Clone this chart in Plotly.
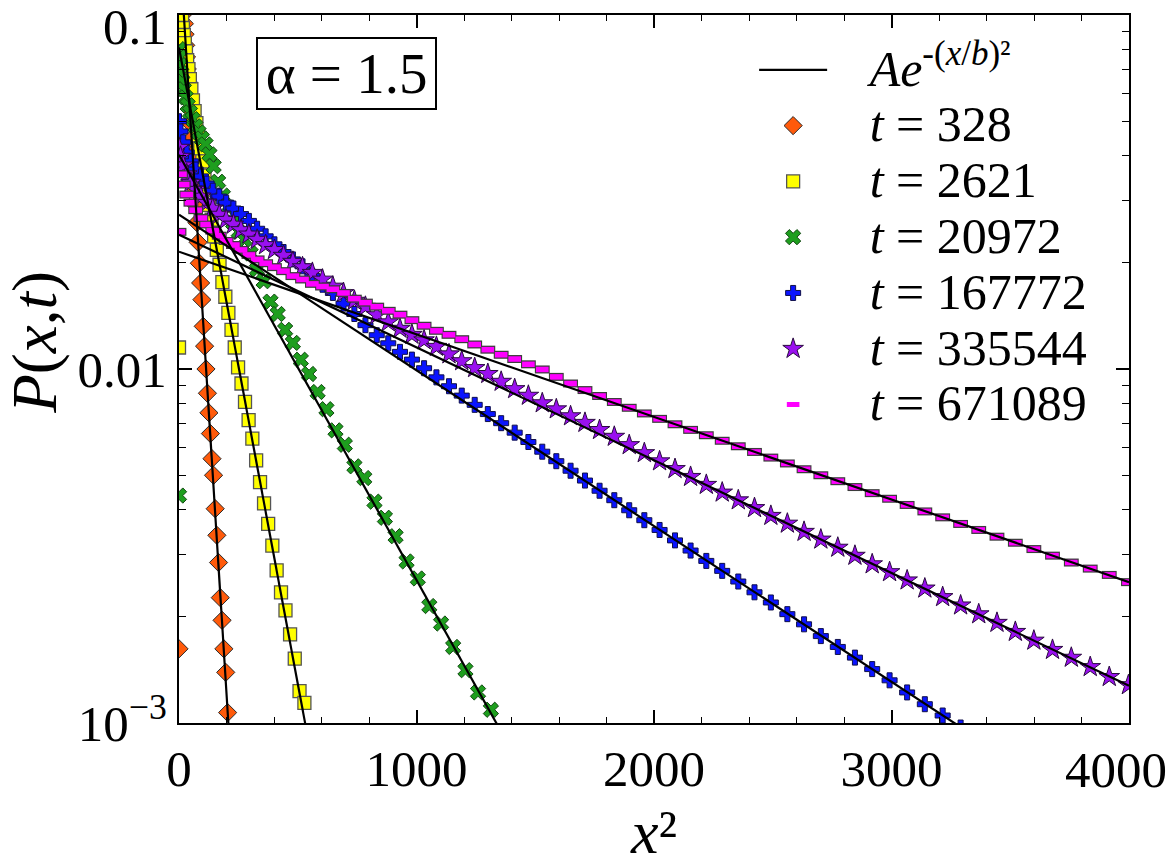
import plotly.graph_objects as go

# ---------------- data ----------------
# t = 328  (orange diamonds)
x2_t328 = [0, 15.4, 17.7, 20.1, 22.7, 25.5, 28.4, 31.5, 34.7, 38.1, 41.6, 45.3, 49.2, 53.2, 57.4,
           61.7, 66.2, 70.8, 75.6, 80.6, 85.7, 91.0, 96.4, 102.0, 107.7, 113.6, 119.7, 125.9, 132.3,
           138.8, 145.5, 152.4, 159.4, 166.5, 173.8, 181.3, 189.0, 196.8, 204.7]
p_t328 = [0.00162, 0.113, 0.107, 0.101, 0.0945, 0.0882, 0.0821, 0.0761, 0.0704, 0.0647, 0.0594,
          0.0542, 0.0493, 0.0447, 0.0403, 0.0362, 0.0324, 0.0290, 0.0259, 0.0228, 0.0199, 0.0175,
          0.0157, 0.0132, 0.0116, 0.0100, 0.00854, 0.00752, 0.00657, 0.00558, 0.00501, 0.00403,
          0.00339, 0.00284, 0.00226, 0.00195, 0.00162, 0.00139, 0.00107]

# t = 2621  (yellow squares)
x2_t2621 = [0, 5.1, 7.3, 9.95, 13.0, 16.4, 20.3, 24.6, 29.2, 34.3, 39.8, 45.7, 52.0, 58.7, 65.8,
            73.3, 81.2, 89.5, 98.3, 107.4, 116.9, 126.9, 137.2, 148.0, 159.2, 170.7, 182.7, 195.1,
            207.9, 221.1, 234.7, 248.7, 263.1, 277.9, 293.1, 308.8, 324.8, 341.2, 358.1, 375.4,
            393.0, 411.1, 429.5, 448.4, 467.7, 487.4, 507.5, 528.0]
p_t2621 = [0.0115, 0.107, 0.104, 0.100, 0.0962, 0.0919, 0.0878, 0.0833, 0.0790, 0.0745, 0.0703,
           0.0659, 0.0617, 0.0574, 0.0535, 0.0495, 0.0457, 0.0420, 0.0386, 0.0352, 0.0321, 0.0291,
           0.0264, 0.0237, 0.0217, 0.0197, 0.0176, 0.0160, 0.0144, 0.0129, 0.0115, 0.0101, 0.00910,
           0.00807, 0.00717, 0.00636, 0.00552, 0.00479, 0.00417, 0.00365, 0.00317, 0.00270,
           0.00234, 0.00208, 0.00178, 0.00152, 0.00123, 0.00114]

# t = 20972  (green x)
x2_t20972 = [0, 0.57, 2.28, 5.13, 9.12, 14.25, 20.5, 27.9, 36.5, 46.2, 57.0, 69.0, 82.1, 96.3,
             111.7, 128.3, 145.9, 164.7, 184.7, 205.8, 228.0, 251.4, 275.9, 301.5, 328.3, 356.3,
             385.3, 415.5, 446.9, 479.4, 513.0, 547.8, 583.7, 620.7, 658.9, 698.3, 738.7, 780.3,
             823.1, 867.0, 912.0, 958.2, 1005.5, 1054.0, 1103.5, 1154.3, 1206.1, 1259.1, 1313.3]
p_t20972 = [0.00439, 0.0801, 0.0760, 0.0722, 0.0685, 0.0650, 0.0617, 0.0585, 0.0556, 0.0531,
            0.0508, 0.0485, 0.0466, 0.0448, 0.0431, 0.0404, 0.0374, 0.0338, 0.0309, 0.0286,
            0.0259, 0.0244, 0.0232, 0.0212, 0.0191, 0.0177, 0.0155, 0.0143, 0.0129, 0.01185,
            0.01062, 0.00968, 0.00861, 0.00770, 0.00671, 0.00611, 0.00531, 0.00492, 0.00422,
            0.00380, 0.00337, 0.00286, 0.00256, 0.00214, 0.00191, 0.00164, 0.00141, 0.00122,
            0.00109]

# common x^2 sampling of the three longest runs
x2_long = [0, 6.28, 17.8, 32.6, 50.2, 70.2, 92.3, 116.3, 142.1, 169.6, 198.6, 229.1, 261.1, 294.4,
           329.0, 364.8, 401.9, 440.2, 479.6, 520.1, 561.7, 604.3, 648.0, 692.7, 738.4, 785.0,
           832.6, 881.1, 930.5, 980.7, 1031.9, 1083.9, 1136.8, 1190.5, 1245.0, 1300.3, 1356.5,
           1413.4, 1471.1, 1529.6, 1588.7, 1648.7, 1709.4, 1770.8, 1832.9, 1895.7, 1959.3,
           2023.5, 2088.4, 2154.0, 2220.3, 2287.2, 2354.9, 2423.1, 2492.0, 2561.5, 2631.8,
           2702.5, 2773.9, 2846.0, 2918.7, 2991.9, 3065.8, 3140.3, 3215.4, 3291.0, 3367.3,
           3444.1, 3521.4, 3599.4, 3677.9, 3757.1, 3836.7, 3916.9, 3997.7]

# t = 167772  (blue crosses)
p_t167772 = [0.0501, 0.0469, 0.0437, 0.0409, 0.0386, 0.0366, 0.0350, 0.0334, 0.0319, 0.0307,
             0.0295, 0.0284, 0.0274, 0.0262, 0.0249, 0.0237, 0.0225, 0.0214, 0.0204, 0.0195,
             0.0183, 0.0173, 0.0164, 0.0153, 0.0143, 0.0133, 0.01246, 0.01182, 0.01118, 0.01063,
             0.01005, 0.00947, 0.00894, 0.00841, 0.00792, 0.00746, 0.00703, 0.00661, 0.00622,
             0.00584, 0.00549, 0.00516, 0.00484, 0.00453, 0.00426, 0.00399, 0.00374, 0.00351,
             0.00328, 0.00307, 0.00287, 0.00269, 0.00251, 0.00234, 0.00219, 0.00203, 0.00190,
             0.00176, 0.00164, 0.00153, 0.00142, 0.00132, 0.00122, 0.00113, 0.00105, 0.000971]
x2_t167772 = x2_long[:len(p_t167772)]

# t = 335544  (purple stars)
p_t335544 = [0.0422, 0.0398, 0.0376, 0.0355, 0.0336, 0.0321, 0.0307, 0.0295, 0.0284, 0.0273,
             0.0264, 0.0256, 0.0247, 0.0240, 0.0232, 0.0224, 0.0217, 0.0209, 0.0201, 0.0194,
             0.0187, 0.0179, 0.0171, 0.0164, 0.0156, 0.0150, 0.0142, 0.01356, 0.0130, 0.0125,
             0.01206, 0.01156, 0.01101, 0.01053, 0.01007, 0.00969, 0.00921, 0.00878, 0.00841,
             0.00801, 0.00770, 0.00736, 0.00705, 0.00673, 0.00644, 0.00610, 0.00579, 0.00549,
             0.00522, 0.00496, 0.00471, 0.00448, 0.00426, 0.00405, 0.00385, 0.00366, 0.00347,
             0.00330, 0.00313, 0.00297, 0.00281, 0.00267, 0.00253, 0.00240, 0.00227, 0.00215,
             0.00203, 0.00192, 0.00181, 0.00171, 0.00161, 0.00153, 0.00144, 0.00135, 0.00128]
x2_t335544 = x2_long[:len(p_t335544)]

# t = 671089  (magenta bars)
p_t671089 = [0.0244, 0.0355, 0.0332, 0.0311, 0.0295, 0.0281, 0.0267, 0.0256, 0.0246, 0.0238,
             0.0230, 0.0224, 0.0217, 0.0210, 0.0204, 0.0199, 0.0194, 0.0189, 0.0183, 0.0179,
             0.0174, 0.0171, 0.0168, 0.0164, 0.0158, 0.0154, 0.0150, 0.0146, 0.01424, 0.01374,
             0.01325, 0.01282, 0.01249, 0.01214, 0.01173, 0.01134, 0.01097, 0.01067, 0.01031,
             0.00997, 0.00950, 0.00910, 0.00872, 0.00839, 0.00807, 0.00777, 0.00749, 0.00723,
             0.00698, 0.00673, 0.00650, 0.00627, 0.00605, 0.00583, 0.00562, 0.00541, 0.00521,
             0.00501, 0.00482, 0.00464, 0.00446, 0.00430, 0.00413, 0.00396, 0.00381, 0.00365,
             0.00351, 0.00336, 0.00323, 0.00310, 0.00297, 0.00284, 0.00273, 0.00262, 0.00250]
x2_t671089 = x2_long[:len(p_t671089)]

# fitted Gaussians A*exp(-(x/b)^2): value at the two ends of each drawn line
fit_x2 = {
    "328": [0, 215], "2621": [0, 545], "20972": [0, 1360],
    "167772": [0, 3350], "335544": [0, 4000], "671089": [0, 4000],
}
fit_p = {
    "328": [0.165, 0.00084], "2621": [0.081, 0.00089], "20972": [0.0403, 0.000936],
    "167772": [0.0273, 0.000917], "335544": [0.02396, 0.001274], "671089": [0.02145, 0.0025],
}

series_labels = ["328", "2621", "20972", "167772", "335544", "671089"]
x_tick_vals = [0, 1000, 2000, 3000, 4000]
x_tick_text = ["0", "1000", "2000", "3000", ""]   # last label is drawn pulled inside the frame
x_last_label = "4000"
y_tick_vals = [0.001, 0.01, 0.1]
y_tick_text = ["10<sup>\u22123</sup>", "0.01",
               '<sub><span style="font-size:51px">0.1</span></sub>']
y_minor_vals = [0.002, 0.003, 0.004, 0.005, 0.006, 0.007, 0.008, 0.009,
                0.02, 0.03, 0.04, 0.05, 0.06, 0.07, 0.08, 0.09]

# ---------------- figure ----------------
SERIF = "Liberation Serif, Times New Roman, Times, serif"
NB = "\u00a0\u00a0\u00a0"
fig = go.Figure()

def lname(t):
    return '<span style="font-size:50px">%s<i>t</i> = %s</span>' % (NB, t)

marker_style = {
    "328": dict(symbol="diamond", size=14, color="#FF5A0A", line=dict(color="#2a2a2a", width=1)),
    "2621": dict(symbol="square", size=13, color="#FFFF00", line=dict(color="#555555", width=1.3)),
    "20972": dict(symbol="x", size=13.5, color="#1E9E1E", line=dict(color="#124812", width=1)),
    "167772": dict(symbol="cross", size=12.5, color="#0A14FF", line=dict(color="#10104a", width=1)),
    "335544": dict(symbol="star", size=15.5, color="#9A10F0", line=dict(color="#2a0a40", width=1)),
}
data_xy = {
    "328": (x2_t328, p_t328), "2621": (x2_t2621, p_t2621), "20972": (x2_t20972, p_t20972),
    "167772": (x2_t167772, p_t167772), "335544": (x2_t335544, p_t335544),
    "671089": (x2_t671089, p_t671089),
}

rank = 2
for t in series_labels:
    xs, ps = data_xy[t]
    assert len(xs) == len(ps)
    if t in marker_style:
        fig.add_trace(go.Scatter(x=xs, y=ps, mode="markers", name=lname(t),
                                 marker=marker_style[t], legendrank=rank))
    else:
        # bordered flat bar: dark outline underneath, magenta bar on top
        fig.add_trace(go.Scatter(x=xs, y=ps, mode="markers", showlegend=False,
                                 marker=dict(symbol="line-ew", size=10.6, color="#3c3c3c",
                                             line=dict(color="#3c3c3c", width=8))))
        fig.add_trace(go.Scatter(x=xs, y=ps, mode="markers", name=lname(t), legendrank=rank,
                                 marker=dict(symbol="line-ew", size=9.0, color="#FF00FF",
                                             line=dict(color="#FF00FF", width=5.5))))
    rank += 1

fit_name = ('<span style="font-size:50px">%s<i>Ae</i><sup>-(<i>x</i>/<i>b</i>)\u00b2</sup></span>' % NB)
first = True
for t in series_labels:
    fig.add_trace(go.Scatter(x=fit_x2[t], y=fit_p[t], mode="lines",
                             line=dict(color="black", width=2.2),
                             name=fit_name, showlegend=first, legendrank=1))
    first = False

fig.update_layout(
    width=1173, height=866,
    margin=dict(l=179, r=44, t=15, b=143),
    paper_bgcolor="white", plot_bgcolor="white",
    font=dict(family=SERIF, color="black", size=50),
    showlegend=True,
    legend=dict(x=0.6054, y=0.969, xanchor="left", yanchor="top",
                bgcolor="rgba(0,0,0,0)", borderwidth=0,
                font=dict(family=SERIF, size=40.6, color="black"),
                itemwidth=68, tracegroupgap=0, itemsizing="trace"),
    xaxis=dict(range=[0, 4000], tickmode="array", tickvals=x_tick_vals, ticktext=x_tick_text,
               ticks="inside", ticklen=13, tickwidth=1.5, tickcolor="black",
               minor=dict(dtick=200, ticks="inside", ticklen=6, tickwidth=1.2, tickcolor="black"),
               showline=True, linewidth=2, linecolor="black", mirror="ticks",
               showgrid=False, zeroline=False, ticklabeloverflow="allow", automargin=False,
               tickfont=dict(family=SERIF, size=51),
               title=dict(text="<i>x</i>\u00b2", font=dict(family=SERIF, size=62), standoff=18)),
    yaxis=dict(type="log", range=[-3, -1], tickmode="array",
               tickvals=y_tick_vals, ticktext=y_tick_text,
               ticks="inside", ticklen=13, tickwidth=1.5, tickcolor="black",
               minor=dict(tickmode="array", tickvals=y_minor_vals, ticks="inside", ticklen=7,
                          tickwidth=1.2, tickcolor="black"),
               showline=True, linewidth=2, linecolor="black", mirror="ticks",
               showgrid=False, zeroline=False, ticklabeloverflow="allow", automargin=False,
               tickfont=dict(family=SERIF, size=51)),
    annotations=[
        dict(text="\u200a\u03b1 = 1.5\u200a", xref="paper", yref="paper", x=0.1758, y=0.9174,
             xanchor="center", yanchor="middle", showarrow=False,
             font=dict(family=SERIF, size=57, color="black"),
             bordercolor="black", borderwidth=2, borderpad=3, bgcolor="white"),
        dict(text="<i>P</i>(<i>x</i>,<i>t</i>)", xref="paper", yref="paper", x=-0.152, y=0.538,
             xanchor="center", yanchor="middle", showarrow=False, textangle=-90,
             font=dict(family=SERIF, size=63, color="black")),
        dict(text=x_last_label, xref="x", yref="paper", x=x_tick_vals[-1], y=0,
             xanchor="center", yanchor="top", xshift=-13, yshift=-16.5, showarrow=False,
             font=dict(family=SERIF, size=51, color="black")),
    ],
)

fig.write_html("out.html")
